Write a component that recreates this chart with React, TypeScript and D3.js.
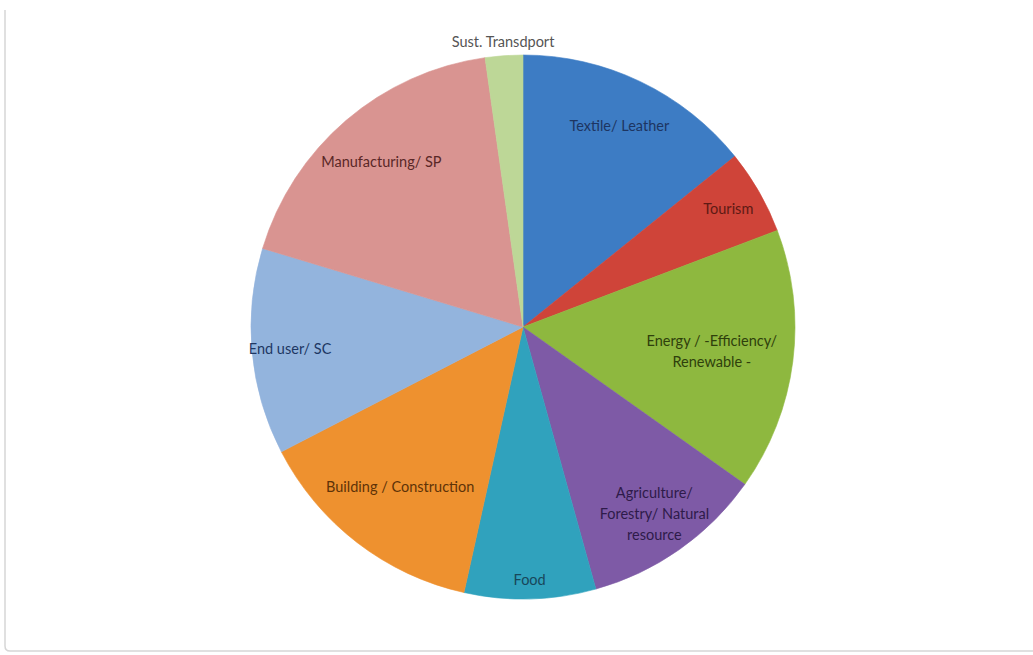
import { useRef, useEffect } from "react";
import * as d3 from "d3";

// slices clockwise from 12 o'clock, values read as degrees of the pie
const categories = [
  "Textile/ Leather",
  "Tourism",
  "Energy / -Efficiency/\nRenewable -",
  "Agriculture/\nForestry/ Natural\nresource",
  "Food",
  "Building / Construction",
  "End user/ SC",
  "Manufacturing/ SP",
  "Sust. Transdport",
];
const values = [51, 18, 56, 39, 28, 50, 44, 65, 8];

const fills = ["#3d7cc4", "#cf4439", "#8eb83f", "#7e5aa6", "#30a2bd", "#ee912f", "#93b4dd", "#d99491", "#bdd797"];
const inks = ["#1d3561", "#5e1a14", "#2f3f0c", "#2e1b4a", "#18475a", "#5e3308", "#1d3763", "#5a2727", "#555555"];
// label distance from centre as a fraction of radius (Excel "best fit" look)
const labelR = [0.82, 0.87, 0.7, 0.84, 0.93, 0.74, 0.86, 0.8, 1.05];

const W = 1033;
const H = 655;
const CX = 523;
const CY = 327;
const R = 272;

export default function App() {
  const svgRef = useRef<SVGSVGElement>(null);

  useEffect(() => {
    if (!svgRef.current) return;
    const svg = d3.select(svgRef.current);
    svg.selectAll("*").remove();

    // faint frame (only left and bottom edges show)
    svg.append("path")
      .attr("d", "M5,10 V646 Q5,651 10,651 H1033")
      .attr("fill", "none")
      .attr("stroke", "#d6d6d6")
      .attr("stroke-width", 1.5);

    const data = categories.map((c, i) => ({ name: c, value: values[i], i }));
    const pie = d3.pie<typeof data[0]>().value(d => d.value).sort(null);
    const arcs = pie(data);
    const arc = d3.arc<d3.PieArcDatum<typeof data[0]>>().innerRadius(0).outerRadius(R);

    const g = svg.append("g").attr("transform", `translate(${CX},${CY})`);

    g.selectAll("path.slice")
      .data(arcs)
      .join("path")
      .attr("class", "slice")
      .attr("d", arc)
      .attr("fill", d => fills[d.data.i])
      .attr("stroke", d => fills[d.data.i])
      .attr("stroke-width", 0.6);

    const labels = g.selectAll("text.lbl")
      .data(arcs)
      .join("text")
      .attr("class", "lbl")
      .attr("text-anchor", "middle")
      .attr("font-family", "Lato, 'Open Sans', sans-serif")
      .attr("font-size", 14.5)
      .attr("fill", d => inks[d.data.i])
      .attr("transform", d => {
        const a = (d.startAngle + d.endAngle) / 2;
        const r = R * labelR[d.data.i];
        const lines = d.data.name.split("\n").length;
        return `translate(${Math.sin(a) * r},${-Math.cos(a) * r - (lines - 1) * 10.5})`;
      });

    labels.each(function (d) {
      const t = d3.select(this);
      d.data.name.split("\n").forEach((line, k) => {
        t.append("tspan")
          .attr("x", 0)
          .attr("dy", k === 0 ? "0.35em" : 21)
          .text(line);
      });
    });
  }, []);

  return (
    <svg
      ref={svgRef}
      width={W}
      height={H}
      style={{ position: "absolute", left: 0, top: 0, background: "#fff" }}
    />
  );
}
